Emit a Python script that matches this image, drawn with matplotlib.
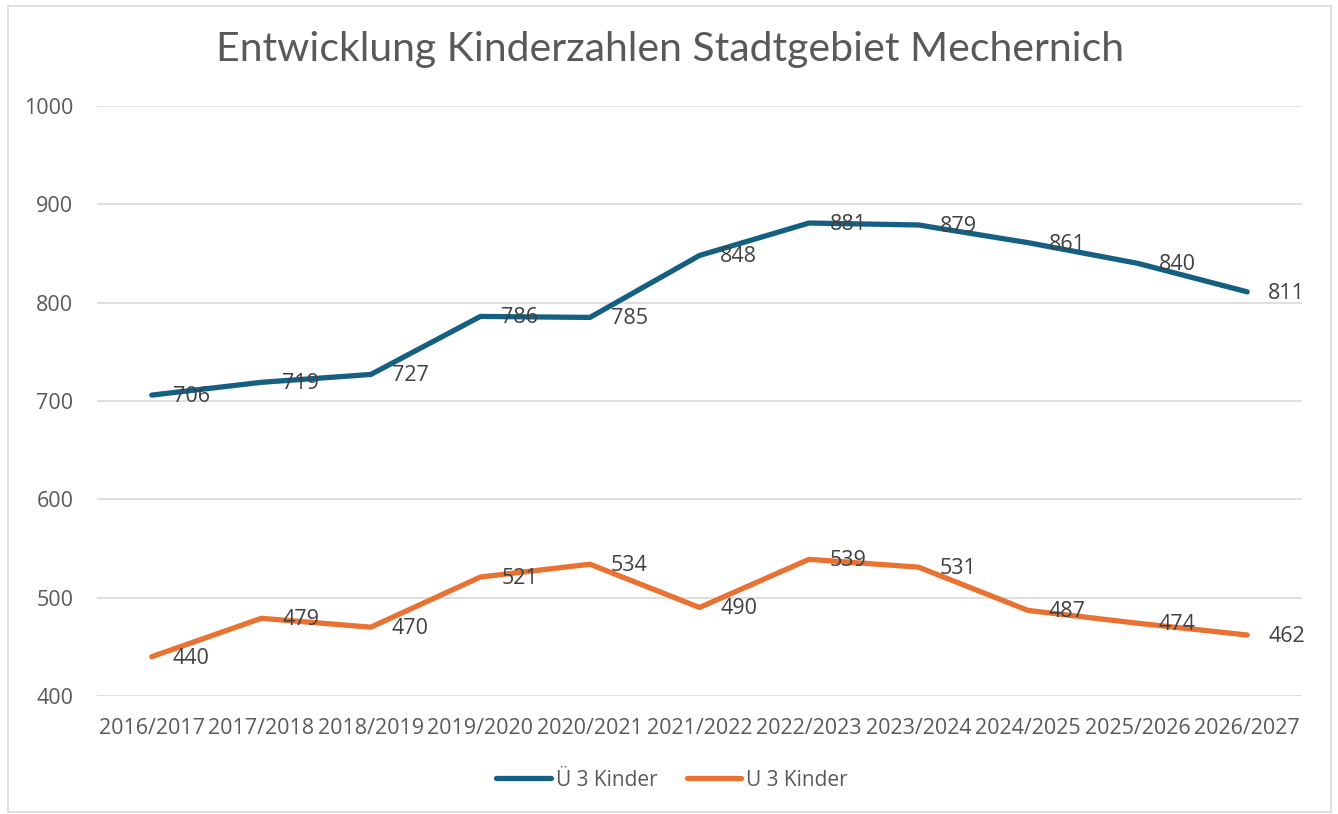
import matplotlib
matplotlib.use("Agg")
import matplotlib.pyplot as plt
from matplotlib.lines import Line2D
from matplotlib.patches import Rectangle

categories = ["2016/2017", "2017/2018", "2018/2019", "2019/2020", "2020/2021",
              "2021/2022", "2022/2023", "2023/2024", "2024/2025", "2025/2026", "2026/2027"]
ue3 = [706, 719, 727, 786, 785, 848, 881, 879, 861, 840, 811]
u3 = [440, 479, 470, 521, 534, 490, 539, 531, 487, 474, 462]
series_names = ["Ü 3 Kinder", "U 3 Kinder"]
title = "Entwicklung Kinderzahlen Stadtgebiet Mechernich"
yticks = [400, 500, 600, 700, 800, 900, 1000]

blue = "#156082"
orange = "#E97132"
W, H = 1338, 814
fig = plt.figure(figsize=(W / 100, H / 100), dpi=100)
fig.patch.set_facecolor("white")
fig.add_artist(Rectangle((8 / W, 2 / H), (1331 - 8) / W, (H - 8) / H,
                         transform=fig.transFigure, fill=False,
                         edgecolor="#d9d9d9", linewidth=1.2))

ax = fig.add_axes([97 / W, 1 - 696 / H, (1302 - 97) / W, (696 - 106) / H])
x = list(range(len(categories)))
for vals, col in ((ue3, blue), (u3, orange)):
    ax.plot(x, vals, color=col, linewidth=3.8, solid_capstyle="round",
            solid_joinstyle="round", zorder=3)
    for xi, v in zip(x, vals):
        ax.annotate(str(v), (xi, v), xytext=(15, -1), textcoords="offset points",
                    ha="left", va="center", fontsize=15.5, color="#404040",
                    family="Open Sans", zorder=4)

ax.set_xlim(-0.5, len(categories) - 0.5)
ax.set_ylim(400, 1000)
ax.set_yticks(yticks)
ax.set_yticklabels([str(t) for t in yticks])
ax.set_xticks(x)
ax.set_xticklabels(categories)
ax.grid(axis="y", color="#d9d9d9", linewidth=1.2)
ax.set_axisbelow(True)
for s in ax.spines.values():
    s.set_visible(False)
ax.tick_params(axis="both", length=0, labelsize=15.5, labelcolor="#595959")
ax.tick_params(axis="y", pad=17)
ax.tick_params(axis="x", pad=16)
for lab in ax.get_xticklabels() + ax.get_yticklabels():
    lab.set_family("Open Sans")

fig.text(670 / W, 1 - 50 / H, title, ha="center", va="center", fontsize=29.5,
         color="#595959", family="Lato", fontweight="normal")

handles = [Line2D([0], [0], color=blue, lw=3.8, solid_capstyle="round"),
           Line2D([0], [0], color=orange, lw=3.8, solid_capstyle="round")]
leg = fig.legend(handles, series_names, loc="center", bbox_to_anchor=(672 / W, 1 - 780 / H),
                 ncol=2, frameon=False, handlelength=2.6, handletextpad=0.25,
                 columnspacing=1.4, prop={"family": "Open Sans", "size": 15})
for t in leg.get_texts():
    t.set_color("#595959")

fig.savefig("out.png", dpi=100)
